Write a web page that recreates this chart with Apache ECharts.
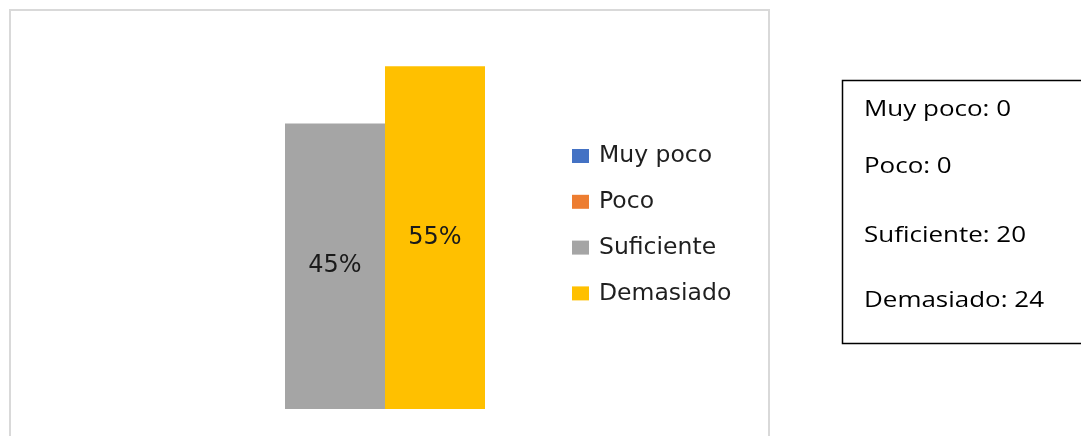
<!DOCTYPE html>
<html>
<head>
<meta charset="utf-8">
<script src="https://cdn.jsdelivr.net/npm/echarts@6/dist/echarts.min.js"></script>
<style>
  html, body { margin: 0; padding: 0; background: #ffffff; }
  #chart { width: 1081px; height: 436px; }
</style>
</head>
<body>
<div id="chart"></div>
<script>
// Survey answers: how many respondents chose each option
const categories = ['Muy poco', 'Poco', 'Suficiente', 'Demasiado'];
const counts = [0, 0, 20, 24];
const colors = ['#4472c4', '#ed7d31', '#a5a5a5', '#ffc000'];

const total = counts.reduce((a, b) => a + b, 0);
const percents = counts.map(c => c / total * 100);

const chart = echarts.init(document.getElementById('chart'), null, { renderer: 'canvas' });

const series = categories.map((name, i) => ({
  name: name,
  type: 'bar',
  data: [percents[i]],
  barWidth: 100,
  barGap: '0%',
  itemStyle: { color: colors[i] },
  label: {
    show: counts[i] > 0,
    position: 'inside',
    formatter: p => Math.round(p.value) + '%',
    fontFamily: 'DejaVu Sans',
    fontSize: 24,
    color: '#1a1a1a'
  },
  emphasis: { disabled: true }
}));

// Count summary shown in the framed box on the right
const boxY = [110, 167, 235.5, 301];
const boxTexts = categories.map((name, i) => ({
  type: 'text',
  x: 864,
  y: boxY[i],
  scaleX: 1.18,
  style: {
    x: 0,
    y: 0,
    text: name + ': ' + counts[i],
    font: '22px "Open Sans"',
    fill: '#000000',
    verticalAlign: 'middle',
    align: 'left'
  }
}));

chart.setOption({
  animation: false,
  backgroundColor: '#ffffff',
  grid: { left: 85, width: 400, top: 32, bottom: 27, containLabel: false },
  xAxis: {
    type: 'category',
    data: ['Respuesta'],
    show: false
  },
  yAxis: {
    type: 'value',
    min: 0,
    max: 60,
    show: false,
    splitLine: { show: false }
  },
  legend: {
    orient: 'vertical',
    left: 572,
    top: 144,
    padding: 0,
    itemWidth: 17,
    itemHeight: 14,
    itemGap: 21.8,
    icon: 'rect',
    selectedMode: false,
    textStyle: {
      fontFamily: 'DejaVu Sans',
      fontSize: 23.5,
      color: '#1f1f1f',
      padding: [0, 0, 0, 5]
    },
    data: categories
  },
  series: series,
  graphic: [
    {
      type: 'rect',
      silent: true,
      z: -1,
      shape: { x: 10, y: 10, width: 759, height: 440 },
      style: { fill: 'none', stroke: '#d9d9d9', lineWidth: 2 }
    },
    {
      type: 'rect',
      silent: true,
      shape: { x: 842.5, y: 80.5, width: 250, height: 263 },
      style: { fill: '#ffffff', stroke: '#000000', lineWidth: 1.5 }
    }
  ].concat(boxTexts)
});
</script>
</body>
</html>
